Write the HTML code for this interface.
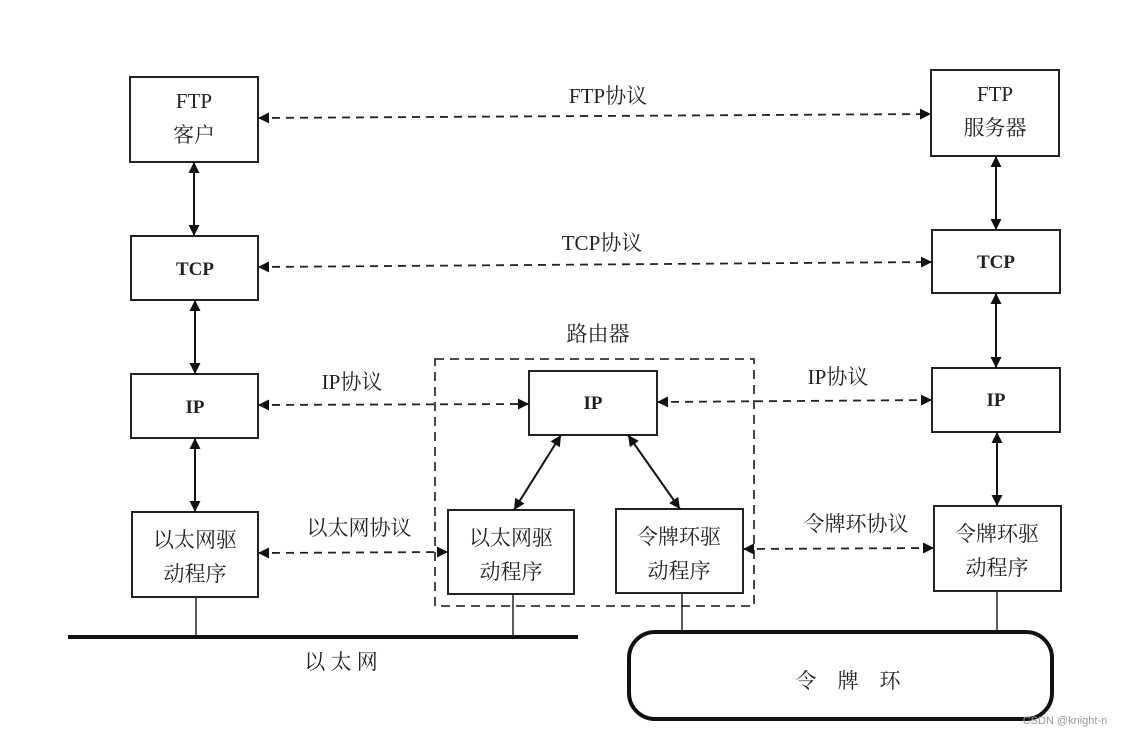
<!DOCTYPE html>
<html><head><meta charset="utf-8"><style>
html,body{margin:0;padding:0;background:#fff;}
svg text{font-family:"Liberation Serif","Noto Serif CJK SC","Noto Sans CJK SC",serif;fill:#222;}
</style></head><body>
<svg width="1125" height="737" viewBox="0 0 1125 737" xmlns="http://www.w3.org/2000/svg">
<defs>
<marker id="a" viewBox="0 0 10 10" refX="10" refY="5" markerWidth="17" markerHeight="11" markerUnits="userSpaceOnUse" orient="auto-start-reverse"><path d="M0,0 L10,5 L0,10 z" fill="#111"/></marker>
</defs>
<g fill="#fff" stroke="#222" stroke-width="2">
<rect x="130" y="77" width="128" height="85"/>
<rect x="131" y="236" width="127" height="64"/>
<rect x="131" y="374" width="127" height="64"/>
<rect x="132" y="512" width="126" height="85"/>
<rect x="931" y="70" width="128" height="86"/>
<rect x="932" y="230" width="128" height="63"/>
<rect x="932" y="368" width="128" height="64"/>
<rect x="934" y="506" width="127" height="85"/>
<rect x="529" y="371" width="128" height="64"/>
<rect x="448" y="510" width="126" height="84"/>
<rect x="616" y="509" width="127" height="84"/>
</g>
<rect x="435" y="359" width="319" height="247" fill="none" stroke="#333" stroke-width="1.8" stroke-dasharray="9,6"/>
<g stroke="#222" stroke-width="1.5">
<line x1="196" y1="597" x2="196" y2="637"/>
<line x1="513" y1="594" x2="513" y2="637"/>
<line x1="682" y1="593" x2="682" y2="632"/>
<line x1="997" y1="591" x2="997" y2="632"/>
</g>
<line x1="68" y1="637" x2="578" y2="637" stroke="#111" stroke-width="4"/>
<rect x="629" y="632" width="423" height="87" rx="26" fill="none" stroke="#111" stroke-width="4"/>
<g stroke="#222" stroke-width="1.8" stroke-dasharray="8,6" fill="none" marker-start="url(#a)" marker-end="url(#a)">
<line x1="258" y1="118" x2="931" y2="114"/>
<line x1="258" y1="267" x2="932" y2="262"/>
<line x1="258" y1="405" x2="529" y2="404"/>
<line x1="657" y1="402" x2="932" y2="400"/>
<line x1="258" y1="553" x2="448" y2="552"/>
<line x1="743" y1="549" x2="934" y2="548"/>
</g>
<g stroke="#111" stroke-width="2" fill="none" marker-start="url(#a)" marker-end="url(#a)">
<line x1="194" y1="162" x2="194" y2="236"/>
<line x1="195" y1="300" x2="195" y2="374"/>
<line x1="195" y1="438" x2="195" y2="512"/>
<line x1="996" y1="156" x2="996" y2="230"/>
<line x1="996" y1="293" x2="996" y2="368"/>
<line x1="997" y1="432" x2="997" y2="506"/>
<line x1="561" y1="435" x2="514" y2="510"/>
<line x1="628" y1="435" x2="680" y2="509"/>
</g>
<g font-size="21" text-anchor="middle">
<text x="194" y="108">FTP</text>
<text x="194" y="142">客户</text>
<text x="195" y="275" font-weight="bold" font-size="19">TCP</text>
<text x="195" y="413" font-weight="bold" font-size="19">IP</text>
<text x="195" y="547">以太网驱</text>
<text x="195" y="581">动程序</text>
<text x="995" y="101">FTP</text>
<text x="995" y="135">服务器</text>
<text x="996" y="268" font-weight="bold" font-size="19">TCP</text>
<text x="996" y="406" font-weight="bold" font-size="19">IP</text>
<text x="997" y="541">令牌环驱</text>
<text x="997" y="575">动程序</text>
<text x="593" y="409" font-weight="bold" font-size="19">IP</text>
<text x="511" y="545">以太网驱</text>
<text x="511" y="579">动程序</text>
<text x="679" y="544">令牌环驱</text>
<text x="679" y="578">动程序</text>
<text x="608" y="103">FTP协议</text>
<text x="602" y="250">TCP协议</text>
<text x="598" y="341">路由器</text>
<text x="352" y="389">IP协议</text>
<text x="838" y="384">IP协议</text>
<text x="359" y="535">以太网协议</text>
<text x="856" y="531">令牌环协议</text>
<text x="341" y="669">以 太 网</text>
<text x="848" y="688">令　牌　环</text>
</g>
<text x="1065" y="724" font-size="11" text-anchor="middle" style="font-family:'Liberation Sans',sans-serif;fill:#999">CSDN @knight-n</text>
</svg>
</body></html>
